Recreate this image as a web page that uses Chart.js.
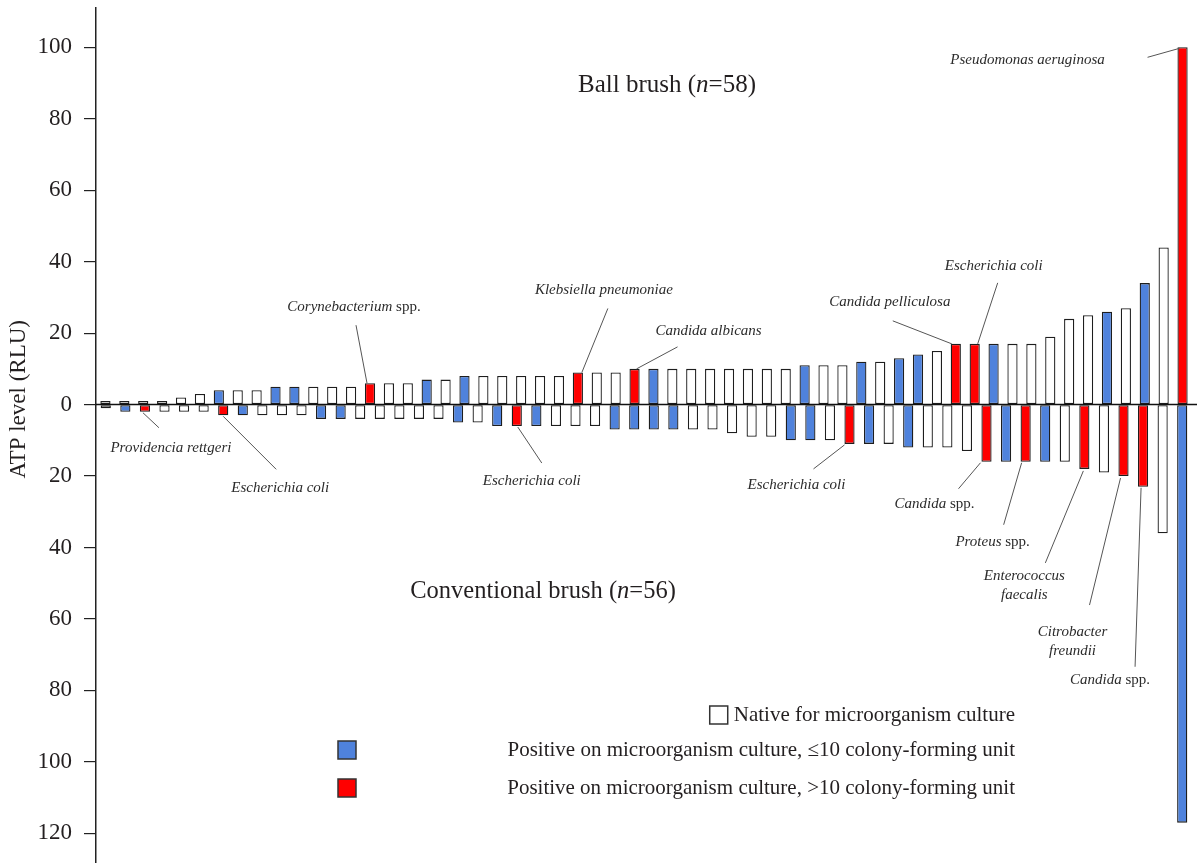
<!DOCTYPE html>
<html>
<head>
<meta charset="utf-8">
<title>ATP level by brush type</title>
<script src="https://cdn.jsdelivr.net/npm/chart.js@4.4.1/dist/chart.umd.min.js"></script>
<style>
  body { margin: 0; background: #fff; }
  #wrap { width: 1197px; height: 863px; }
</style>
</head>
<body>
<div id="wrap"><canvas id="atpchart" width="1197" height="863"></canvas></div>
<script>
// Ball brush (n=58), sorted ATP levels (RLU), drawn above zero
var ballValues = [1, 1, 1, 1, 2, 3, 4, 4, 4, 5, 5, 5, 5, 5, 6, 6, 6, 7, 7, 8,
                  8, 8, 8, 8, 8, 9, 9, 9, 10, 10, 10, 10, 10, 10, 10, 10, 10, 11, 11, 11,
                  12, 12, 13, 14, 15, 17, 17, 17, 17, 17, 19, 24, 25, 26, 27, 34, 44, 100];
// culture result: N = native, B = positive <=10 CFU, R = positive >10 CFU
var ballCulture = ['N','N','N','N','N','N','B','N','N','B','B','N','N','N','R','N','N','B','N','B',
                   'N','N','N','N','N','R','N','N','R','B','N','N','N','N','N','N','N','B','N','N',
                   'B','N','B','B','N','R','R','B','N','N','N','N','N','B','N','B','N','R'];

// Conventional brush (n=56), drawn below zero
var convValues = [1, 2, 2, 2, 2, 2, 3, 3, 3, 3, 3, 4, 4, 4, 4, 4, 4, 4, 5, 5,
                  6, 6, 6, 6, 6, 6, 7, 7, 7, 7, 7, 7, 8, 9, 9, 10, 10, 10, 11, 11,
                  11, 12, 12, 12, 13, 16, 16, 16, 16, 16, 18, 19, 20, 23, 36, 117];
var convCulture = ['N','B','R','N','N','N','R','B','N','N','N','B','B','N','N','N','N','N','B','N',
                   'B','R','B','N','N','N','B','B','B','B','N','N','N','N','N','B','B','N','R','B',
                   'N','B','N','N','N','R','B','R','B','N','R','N','R','R','N','B'];

var tickValues = [100, 80, 60, 40, 20, 0, -20, -40, -60, -80, -100, -120];

var ballLabels = ballValues.map(function(v, i){ return 'b' + (i + 1); });
var convLabels = convValues.map(function(v, i){ return 'c' + (i + 1); });

var fills = { N: '#ffffff', B: '#4f82dc', R: '#ff0000' };
var serif = '"Liberation Serif", "Times New Roman", serif';
var ink = '#231f20';

// species call-outs: which bar, text parts [text, italic], offsets from the bar end
var notes = [
  { set: 1, bar: 3,  lines: [[['Providencia rettgeri', 1]]], from: [-2, 1], to: [14, 16], at: [26, 36] },
  { set: 1, bar: 7,  lines: [[['Escherichia coli', 1]]], from: [0, 1], to: [53, 54], at: [57, 73] },
  { set: 0, bar: 15, lines: [[['Corynebacterium', 1], [' spp.', 0]]], from: [-3, 0], to: [-14, -58], at: [-16, -76] },
  { set: 0, bar: 26, lines: [[['Klebsiella pneumoniae', 1]]], from: [4, 0], to: [30, -64], at: [26, -82] },
  { set: 0, bar: 29, lines: [[['Candida albicans', 1]]], from: [2, 0], to: [43, -22], at: [74, -38] },
  { set: 1, bar: 22, lines: [[['Escherichia coli', 1]]], from: [1, 1], to: [25, 37], at: [15, 55] },
  { set: 1, bar: 39, lines: [[['Escherichia coli', 1]]], from: [-5, 1], to: [-36, 25], at: [-53, 41] },
  { set: 0, bar: 46, lines: [[['Candida pelliculosa', 1]]], from: [-4, 0], to: [-63, -23], at: [-66, -42] },
  { set: 0, bar: 47, lines: [[['Escherichia coli', 1]]], from: [3, 0], to: [23, -61], at: [19, -78] },
  { set: 1, bar: 46, lines: [[['Candida', 1], [' spp.', 0]]], from: [-6, 1], to: [-28, 27], at: [-52, 42] },
  { set: 1, bar: 48, lines: [[['Proteus', 1], [' spp.', 0]]], from: [-4, 1], to: [-22, 63], at: [-33, 80] },
  { set: 1, bar: 51, lines: [[['Enterococcus', 1]], [['faecalis', 1]]], from: [-1, 2], to: [-39, 94], at: [-60, 107] },
  { set: 1, bar: 53, lines: [[['Citrobacter', 1]], [['freundii', 1]]], from: [-3, 2], to: [-34, 129], at: [-51, 156] },
  { set: 1, bar: 54, lines: [[['Candida', 1], [' spp.', 0]]], from: [-2, 1], to: [-8, 180], at: [-33, 193] },
  { set: 0, bar: 58, lines: [[['Pseudomonas aeruginosa', 1]]], from: [-3, 1], to: [-35, 10], at: [-155, 13] }
];

function drawParts(ctx, parts, cx, cy, size, align) {
  var total = 0;
  parts.forEach(function(p){
    ctx.font = (p[1] ? 'italic ' : '') + size + 'px ' + serif;
    total += ctx.measureText(p[0]).width;
  });
  var x = align === 'right' ? cx - total : (align === 'left' ? cx : cx - total / 2);
  parts.forEach(function(p){
    ctx.font = (p[1] ? 'italic ' : '') + size + 'px ' + serif;
    ctx.textAlign = 'left';
    ctx.fillText(p[0], x, cy);
    x += ctx.measureText(p[0]).width;
  });
  return total;
}

var overlay = {
  id: 'overlay',
  afterDatasetsDraw: function(chart) {
    var ctx = chart.ctx;
    var y = chart.scales.y;
    var y0 = y.getPixelForValue(0);
    ctx.save();

    // zero line
    ctx.strokeStyle = '#111';
    ctx.lineWidth = 1.5;
    ctx.beginPath();
    ctx.moveTo(chart.chartArea.left, y0);
    ctx.lineTo(chart.width, y0);
    ctx.stroke();

    // axis title, centred a bit above the middle like the original
    ctx.save();
    ctx.translate(19, y.getPixelForValue(1.5));
    ctx.rotate(-Math.PI / 2);
    ctx.fillStyle = ink;
    ctx.textBaseline = 'middle';
    drawParts(ctx, [['ATP level (RLU)', 0]], 0, 0, 23);
    ctx.restore();

    // call-outs
    ctx.fillStyle = '#2b2b2b';
    ctx.textBaseline = 'middle';
    notes.forEach(function(n){
      var el = chart.getDatasetMeta(n.set).data[n.bar - 1];
      ctx.strokeStyle = '#555';
      ctx.lineWidth = 1;
      ctx.beginPath();
      ctx.moveTo(el.x + n.from[0], el.y + n.from[1]);
      ctx.lineTo(el.x + n.to[0], el.y + n.to[1]);
      ctx.stroke();
      n.lines.forEach(function(parts, k){
        drawParts(ctx, parts, el.x + n.at[0], el.y + n.at[1] + k * 19, 15);
      });
    });

    // group titles
    ctx.fillStyle = ink;
    drawParts(ctx, [['Ball brush (', 0], ['n', 1], ['=58)', 0]], 667, y.getPixelForValue(89.2), 25);
    drawParts(ctx, [['Conventional brush (', 0], ['n', 1], ['=56)', 0]], 543, y.getPixelForValue(-52.2), 24.5);

    // legend
    var legend = [
      { code: 'N', text: 'Native for microorganism culture', y: 715, boxX: null },
      { code: 'B', text: 'Positive on microorganism culture, \u226410 colony-forming unit', y: 750, boxX: 338 },
      { code: 'R', text: 'Positive on microorganism culture, >10 colony-forming unit', y: 788, boxX: 338 }
    ];
    legend.forEach(function(it){
      ctx.fillStyle = ink;
      var w = drawParts(ctx, [[it.text, 0]], 1015, it.y, 21, 'right');
      var bx = it.boxX === null ? 1015 - w - 24 : it.boxX;
      ctx.fillStyle = fills[it.code];
      ctx.fillRect(bx, it.y - 9, 18, 18);
      ctx.strokeStyle = '#333';
      ctx.lineWidth = 1.5;
      ctx.strokeRect(bx, it.y - 9, 18, 18);
    });

    ctx.restore();
  }
};

var ctx = document.getElementById('atpchart').getContext('2d');
var atpChart = new Chart(ctx, {
  type: 'bar',
  data: {
    datasets: [
      {
        label: 'Ball brush',
        xAxisID: 'xt',
        data: ballValues,
        backgroundColor: ballCulture.map(function(c){ return fills[c]; }),
        borderColor: '#1e1e1e',
        borderWidth: 1.3,
        borderSkipped: false,
        grouped: false,
        barPercentage: 0.54,
        categoryPercentage: 1
      },
      {
        label: 'Conventional brush',
        xAxisID: 'xb',
        data: convValues.map(function(v){ return -v; }),
        backgroundColor: convCulture.map(function(c){ return fills[c]; }),
        borderColor: '#1e1e1e',
        borderWidth: 1.3,
        borderSkipped: false,
        grouped: false,
        barPercentage: 0.52,
        categoryPercentage: 1
      }
    ]
  },
  options: {
    responsive: false,
    animation: false,
    layout: { padding: { top: 8, right: 5, left: 0, bottom: 0 } },
    plugins: {
      legend: { display: false },
      tooltip: { enabled: false }
    },
    scales: {
      xt: { type: 'category', labels: ballLabels, display: false, offset: true },
      xb: { type: 'category', labels: convLabels, display: false, offset: true },
      y: {
        min: -128.3,
        max: 111,
        afterBuildTicks: function(s){ s.ticks = tickValues.map(function(v){ return { value: v }; }); },
        afterFit: function(s){ s.width = 96; s.paddingTop = 0; s.paddingBottom = 0; },
        ticks: {
          callback: function(v){ return Math.abs(v); },
          font: { family: serif, size: 23 },
          color: ink,
          padding: 12
        },
        grid: { drawOnChartArea: false, drawTicks: true, tickLength: 12, color: '#222', lineWidth: 1.2 },
        border: { display: true, color: '#222', width: 1.5 },
        title: { display: false }
      }
    }
  },
  plugins: [overlay]
});
</script>
</body>
</html>
